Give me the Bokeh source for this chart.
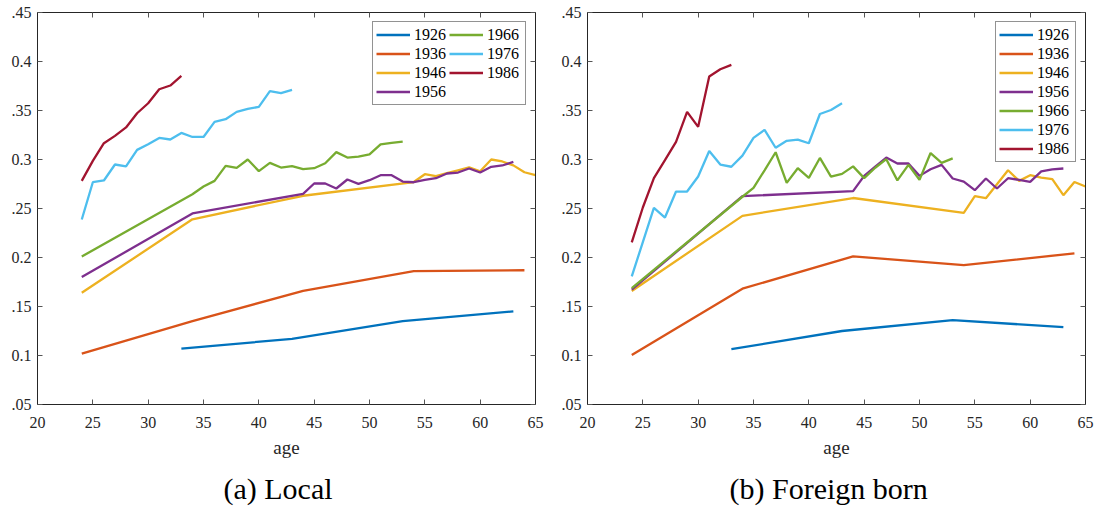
from bokeh.plotting import figure
from bokeh.models import Range1d, FixedTicker, LinearAxis, Legend, LegendItem, Title
from bokeh.layouts import row
from bokeh.embed import file_html
from bokeh.resources import INLINE

# ---------------- data ----------------
COHORTS = ["1926", "1936", "1946", "1956", "1966", "1976", "1986"]
COLORS = ["#0072BD", "#D95319", "#EDB120", "#7E2F8E", "#77AC30", "#4DBEEE", "#A2142F"]

X_MIN, X_MAX = 20, 65
Y_MIN, Y_MAX = 0.05, 0.45
X_TICKS = [20, 25, 30, 35, 40, 45, 50, 55, 60, 65]
Y_TICKS = [0.05, 0.1, 0.15, 0.2, 0.25, 0.3, 0.35, 0.4, 0.45]
Y_TICK_LABELS = [".05", "0.1", ".15", "0.2", ".25", "0.3", ".35", "0.4", ".45"]

AGES_1926 = [33, 43, 53, 63]
AGES_1936 = [24, 34, 44, 54, 64]
AGES_1946 = [24, 34, 44, 54, 55, 56, 57, 58, 59, 60, 61, 62, 63, 64, 65]
AGES_1956 = [24, 34, 44] + list(range(45, 64))
AGES_1966 = [24, 34] + list(range(35, 54))
AGES_1976 = list(range(24, 44))
AGES_1986 = list(range(24, 34))

# (a) Local
LOCAL_1926 = [0.107, 0.117, 0.135, 0.145]
LOCAL_1936 = [0.102, 0.135, 0.166, 0.186, 0.187]
LOCAL_1946 = [0.164, 0.239, 0.263, 0.277, 0.285, 0.283, 0.286, 0.289, 0.292, 0.288,
              0.300, 0.298, 0.294, 0.287, 0.284]
LOCAL_1956 = [0.180, 0.245, 0.265, 0.2755, 0.2755, 0.2704, 0.2796, 0.2751, 0.2789, 0.284,
              0.284, 0.2775, 0.2768, 0.2792, 0.2809, 0.2857, 0.2867, 0.2908, 0.2867, 0.2925,
              0.2939, 0.2976]
LOCAL_1966 = [0.201, 0.2646, 0.2724, 0.2782, 0.2935, 0.2914, 0.300, 0.2881, 0.2965, 0.2918,
              0.2932, 0.2901, 0.2911, 0.2962, 0.3075, 0.302, 0.303, 0.3053, 0.3155, 0.3169,
              0.3183]
LOCAL_1976 = [0.2388, 0.2768, 0.2786, 0.2949, 0.2929, 0.3098, 0.3156, 0.322, 0.3204, 0.3271,
              0.323, 0.323, 0.3384, 0.3411, 0.3486, 0.3516, 0.3537, 0.3697, 0.3677, 0.371]
LOCAL_1986 = [0.2782, 0.2986, 0.3166, 0.3241, 0.3327, 0.3472, 0.3574, 0.3717, 0.3755, 0.3853]

# (b) Foreign born
FOREIGN_1926 = [0.1064, 0.125, 0.136, 0.129]
FOREIGN_1936 = [0.1006, 0.1682, 0.2012, 0.1923, 0.2042]
FOREIGN_1946 = [0.1658, 0.2425, 0.2607, 0.2455, 0.2626, 0.2605, 0.2748, 0.289, 0.2782, 0.284,
                0.2816, 0.2799, 0.2636, 0.2771, 0.2724]
FOREIGN_1956 = [0.1672, 0.2626, 0.2678, 0.2833, 0.2928, 0.302, 0.2959, 0.2959, 0.2833, 0.290,
                0.2945, 0.2806, 0.2775, 0.2687, 0.2806, 0.2704, 0.2809, 0.2792, 0.2771, 0.2878,
                0.290, 0.2908]
FOREIGN_1966 = [0.1688, 0.262, 0.271, 0.289, 0.3074, 0.2761, 0.2911, 0.2812, 0.3016, 0.2826,
                0.2853, 0.2930, 0.2810, 0.2916, 0.3003, 0.2787, 0.2946, 0.2792, 0.3066, 0.2965,
                0.3011]
FOREIGN_1976 = [0.1807, 0.2157, 0.2507, 0.2408, 0.2673, 0.2673, 0.2826, 0.3086, 0.2948, 0.2926,
                0.304, 0.322, 0.3303, 0.312, 0.3191, 0.3203, 0.3166, 0.3464, 0.3505, 0.3573]
FOREIGN_1986 = [0.2154, 0.251, 0.281, 0.2993, 0.318, 0.3486, 0.3333, 0.3847, 0.3921, 0.3966]

AGES = [AGES_1926, AGES_1936, AGES_1946, AGES_1956, AGES_1966, AGES_1976, AGES_1986]
LOCAL = [LOCAL_1926, LOCAL_1936, LOCAL_1946, LOCAL_1956, LOCAL_1966, LOCAL_1976, LOCAL_1986]
FOREIGN = [FOREIGN_1926, FOREIGN_1936, FOREIGN_1946, FOREIGN_1956, FOREIGN_1966, FOREIGN_1976,
           FOREIGN_1986]

FONT = "Times New Roman"
TITLE_FONT = "Liberation Serif"
INK = "#262626"


def style_axis(ax, ticks, labels=True, overrides=None):
    ax.ticker = FixedTicker(ticks=ticks)
    ax.major_tick_in = 5
    ax.major_tick_out = 0
    ax.minor_tick_in = 0
    ax.minor_tick_out = 0
    ax.axis_line_color = INK
    ax.axis_line_width = 1
    ax.major_tick_line_color = "#555555"
    ax.major_tick_line_width = 1
    if labels:
        ax.major_label_text_font = FONT
        ax.major_label_text_font_size = "16px"
        ax.major_label_text_color = INK
        if overrides:
            ax.major_label_overrides = overrides
    else:
        ax.major_label_text_font_size = "0px"
        ax.major_label_text_color = None
        ax.major_label_standoff = 0


def make_panel(series, caption, caption_offset, ncols, border_right):
    p = figure(frame_width=498, frame_height=392,
               x_range=Range1d(X_MIN, X_MAX), y_range=Range1d(Y_MIN, Y_MAX),
               output_backend="svg", toolbar_location=None, title=None,
               min_border_left=37, min_border_right=border_right,
               min_border_top=12, min_border_bottom=0,
               outline_line_color=None, background_fill_color="white",
               border_fill_color="white")
    p.xgrid.visible = False
    p.ygrid.visible = False

    renderers = []
    for ages, vals, col in zip(AGES, series, COLORS):
        r = p.line(ages, vals, line_color=col, line_width=2.3)
        renderers.append(r)

    xb = p.below[0]
    style_axis(xb, X_TICKS)
    xb.major_label_standoff = 12

    yl = p.left[0]
    style_axis(yl, Y_TICKS, overrides=dict(zip(Y_TICKS, Y_TICK_LABELS)))
    yl.major_label_standoff = 6

    xa = LinearAxis()
    style_axis(xa, X_TICKS, labels=False)
    p.add_layout(xa, "above")
    yr = LinearAxis()
    style_axis(yr, Y_TICKS, labels=False)
    p.add_layout(yr, "right")

    items = [LegendItem(label=c, renderers=[r]) for c, r in zip(COHORTS, renderers)]
    leg = Legend(items=items, location="top_right", ncols=ncols, margin=9,
                 padding=3, spacing=0, label_height=19, glyph_height=19,
                 glyph_width=34, label_standoff=4, label_width=35,
                 label_text_font=FONT, label_text_line_height=1.0,
                 label_text_font_size="16px",
                 label_text_color="#000000", border_line_color=INK,
                 border_line_width=1, background_fill_color="white",
                 background_fill_alpha=1.0)
    p.add_layout(leg)

    age = Title(text="age", align="center", vertical_align="bottom",
                text_font=TITLE_FONT, text_font_size="19px", text_font_style="normal",
                text_color=INK, standoff=9)
    p.add_layout(age, "below")

    t = Title(text=caption, align="left", offset=caption_offset, vertical_align="bottom",
              text_font=TITLE_FONT, text_font_size="30px", text_font_style="normal",
              text_color="#000000", standoff=14)
    p.add_layout(t, "below")
    return p


p1 = make_panel(LOCAL, "(a) Local", 186, 2, 15)
p2 = make_panel(FOREIGN, "(b) Foreign born", 142, 1, 10)

layout = row(p1, p2)
open("out.html", "w").write(file_html(layout, INLINE))
